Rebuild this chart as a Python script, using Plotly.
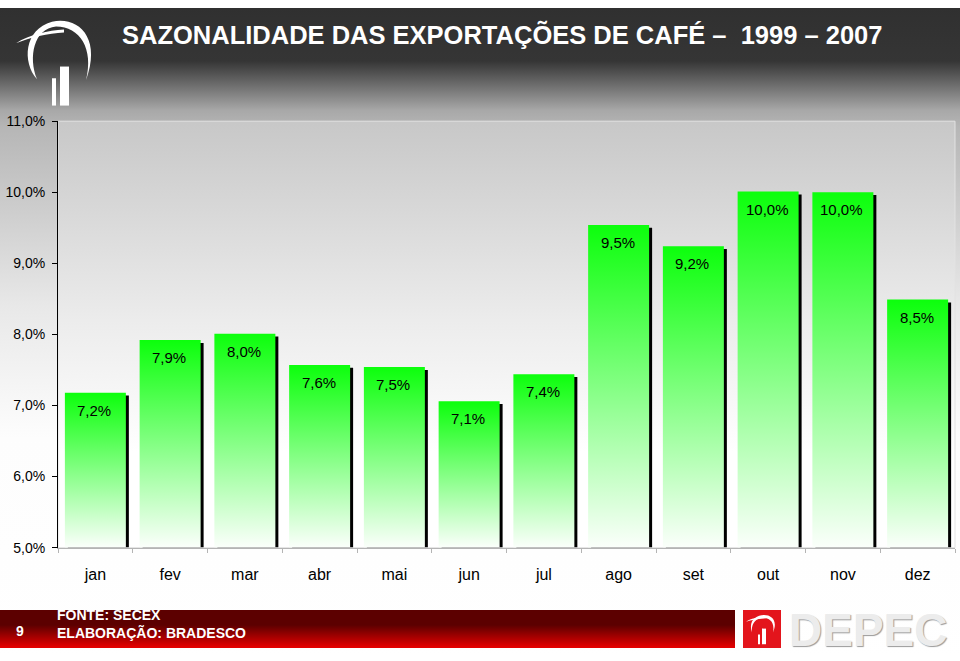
"""
Sazonalidade das exportações de café 1999-2007 — recriação em Plotly
"""

import plotly.graph_objects as go

# ── Dados ───────────────────────────────────────────────────────────────────
MESES = ["jan", "fev", "mar", "abr", "mai", "jun",
         "jul", "ago", "set", "out", "nov", "dez"]
PARTICIPACAO = [7.18, 7.92, 8.01, 7.57, 7.54, 7.06,
                7.44, 9.54, 9.24, 10.01, 10.0, 8.49]
Y_TICKS = [5, 6, 7, 8, 9, 10, 11]
Y_TICK_TEXT = ["5,0%", "6,0%", "7,0%", "8,0%", "9,0%", "10,0%", "11,0%"]

TITULO = "SAZONALIDADE DAS EXPORTAÇÕES DE CAFÉ –  1999 – 2007"
FONTE = "FONTE: SECEX"
ELABORACAO = "ELABORAÇÃO: BRADESCO"
PAGINA = "9"

# ── Tema ────────────────────────────────────────────────────────────────────
W, H = 960, 661
FONT = "Liberation Sans, Arial, sans-serif"
BAR_W = 0.816
SHADOW_DX = 0.04      # ~3 px em categorias
SHADOW_DY = 0.04      # ~3 px em pontos percentuais
BASE = 5

# área do gráfico em pixels da página
PX_L, PX_R, PX_T, PX_B = 58, 955, 116, 553


def rect(x0, y0, x1, y1):
    return [x0, x1, x1, x0, x0], [y0, y0, y1, y1, y0]


fig = go.Figure()

# ── Fundo da página (eixo x/y em pixels) ────────────────────────────────────
bx, by = rect(0, 0, W, H)
fig.add_trace(go.Scatter(
    x=bx, y=by, fill="toself", mode="lines", line=dict(width=0),
    fillgradient=dict(type="vertical", start=0, stop=H, colorscale=[
        [0.0, "#303030"], [0.08, "#353535"], [0.155, "#a8a8a8"],
        [0.18, "#b6b6b6"], [0.45, "#e8e8e8"], [0.65, "#fdfdfd"], [1.0, "#ffffff"],
    ]),
    hoverinfo="skip", showlegend=False, xaxis="x", yaxis="y",
))

# área de plotagem com gradiente próprio
px, py = rect(PX_L, PX_T, PX_R, PX_B)
fig.add_trace(go.Scatter(
    x=px, y=py, fill="toself", mode="lines",
    line=dict(width=1, color="#e2e2e2"),
    fillgradient=dict(type="vertical", start=PX_T, stop=PX_B, colorscale=[
        [0.0, "#c8c8c8"], [0.45, "#ececec"], [0.75, "#ffffff"], [1.0, "#ffffff"],
    ]),
    hoverinfo="skip", showlegend=False, xaxis="x", yaxis="y",
))

# faixa vermelha do rodapé
rx, ry = rect(0, 617, 735, 656)
fig.add_trace(go.Scatter(
    x=rx, y=ry, fill="toself", mode="lines", line=dict(width=0),
    fillgradient=dict(type="vertical", start=617, stop=656, colorscale=[
        [0.0, "#5c0000"], [0.55, "#e00000"], [1.0, "#ff0a0a"],
    ]),
    hoverinfo="skip", showlegend=False, xaxis="x", yaxis="y",
))

# ── Barras: sombra + gradiente verde ────────────────────────────────────────
idx = list(range(len(MESES)))

fig.add_trace(go.Bar(
    x=idx, y=[v - BASE - SHADOW_DY for v in PARTICIPACAO], base=BASE,
    width=BAR_W, offset=-BAR_W / 2 + SHADOW_DX,
    marker=dict(color="#000000", line=dict(width=0)),
    hoverinfo="skip", showlegend=False, xaxis="x2", yaxis="y2",
))

for i, v in zip(idx, PARTICIPACAO):
    gx, gy = rect(i - BAR_W / 2, BASE, i + BAR_W / 2, v)
    fig.add_trace(go.Scatter(
        x=gx, y=gy, fill="toself", mode="lines", line=dict(width=0),
        fillgradient=dict(type="vertical", colorscale=[
            [0.0, "#fbfffb"], [1.0, "#0cff0c"],
        ]),
        name=MESES[i],
        hovertemplate=f"{MESES[i]}: {v:.1f}%<extra></extra>",
        showlegend=False, xaxis="x2", yaxis="y2",
    ))
    fig.add_annotation(
        x=i, y=v, xref="x2", yref="y2",
        text=f"{v:.1f}%".replace(".", ","),
        showarrow=False, yanchor="top", yshift=-7, xshift=-1,
        font=dict(family=FONT, size=15, color="#000000"),
    )

# ── Eixos ───────────────────────────────────────────────────────────────────
fig.update_layout(
    width=W, height=H,
    margin=dict(l=0, r=0, t=0, b=0),
    paper_bgcolor="#ffffff",
    plot_bgcolor="rgba(0,0,0,0)",
    showlegend=False,
    xaxis=dict(domain=[0, 1], range=[0, W], visible=False, fixedrange=True),
    yaxis=dict(domain=[0, 1], range=[H, 0], visible=False, fixedrange=True),
    xaxis2=dict(
        domain=[PX_L / W, PX_R / W], anchor="y2",
        range=[-0.5, len(MESES) - 0.5],
        tickvals=idx, ticktext=MESES, ticks="",
        showline=True, linecolor="#b4b4b4", linewidth=1,
        showgrid=False, zeroline=False,
        minor=dict(ticks="outside", ticklen=4, tickcolor="#b4b4b4",
                   tick0=0.5, dtick=1, showgrid=False),
        ticklabelstandoff=12,
        tickfont=dict(family=FONT, size=16, color="#000000"),
    ),
    yaxis2=dict(
        domain=[1 - PX_B / H, 1 - PX_T / H], anchor="x2",
        range=[BASE, 11], tickvals=Y_TICKS, ticktext=Y_TICK_TEXT,
        ticks="outside", ticklen=5, tickcolor="#000000",
        showline=True, linecolor="#000000", linewidth=1,
        showgrid=False, zeroline=False, ticklabelstandoff=4,
        tickfont=dict(family=FONT, size=14, color="#000000"),
    ),
)

# ── Cabeçalho ───────────────────────────────────────────────────────────────
fig.add_annotation(
    x=120, y=27, xref="x", yref="y", xanchor="left", yanchor="middle",
    text=f"<b>{TITULO}</b>", showarrow=False,
    font=dict(family=FONT, size=25.5, color="#ffffff"),
)

# logotipo (arco + barras)
LOGO = [
    "M 37,73 C 22,55 24,22 52,14 C 78,8 102,30 86,74 "
    "C 94,42 80,19 56,19 C 34,21 28,50 37,73 Z",
    "M 16,36 C 30,27 48,23 64,22 L 64,25 C 48,26 30,30 16,36 Z",
    "M 60,60 L 69,60 L 69,100 L 60,100 Z",
    "M 52,72 L 56,72 L 56,100 L 52,100 Z",
]
for p in LOGO:
    fig.add_shape(type="path", path=p, xref="x", yref="y",
                  fillcolor="#ffffff", line=dict(width=0), layer="above")

# ── Rodapé ──────────────────────────────────────────────────────────────────
fig.add_annotation(
    x=55, y=622, xref="x", yref="y", xanchor="left", yanchor="middle",
    text=f"<b>{FONTE}</b>", showarrow=False,
    font=dict(family=FONT, size=14, color="#ffffff"),
)
fig.add_annotation(
    x=55, y=640, xref="x", yref="y", xanchor="left", yanchor="middle",
    text=f"<b>{ELABORACAO}</b>", showarrow=False,
    font=dict(family=FONT, size=14, color="#ffffff"),
)
fig.add_annotation(
    x=20, y=638, xref="x", yref="y", xanchor="center", yanchor="middle",
    text=f"<b>{PAGINA}</b>", showarrow=False,
    font=dict(family=FONT, size=14, color="#ffffff"),
)

# selo DEPEC
fig.add_shape(type="rect", x0=743, y0=617, x1=781, y1=656, xref="x", yref="y",
              fillcolor="#e3151c", line=dict(width=0), layer="above")
for p in [
    "M 752,640 C 748,628 756,622 764,622 C 772,622 778,628 773,640 "
    "C 775,630 770,625 763,625 C 756,625 751,631 752,640 Z",
    "M 746,629 C 752,625 758,624 766,624 L 766,625.5 C 758,626 752,627 746,629 Z",
    "M 762,636 L 766,636 L 766,652 L 762,652 Z",
    "M 758,642 L 760,642 L 760,652 L 758,652 Z",
]:
    fig.add_shape(type="path", path=p, xref="x", yref="y",
                  fillcolor="#ffffff", line=dict(width=0), layer="above")

fig.add_annotation(
    x=868, y=637, xref="x", yref="y", xanchor="center", yanchor="middle",
    text="<b>DEPEC</b>", showarrow=False,
    font=dict(family=FONT, size=46, color="#ececec",
              shadow="1px 1px 1px #9a9a9a"),
)

# página sem margens: a figura começa no canto da janela
POST = """
var s = document.documentElement.style, b = document.body.style;
s.margin = '0'; s.padding = '0'; s.height = '661px'; s.overflow = 'hidden';
b.margin = '0'; b.padding = '0'; b.height = '661px'; b.overflow = 'hidden';
"""

fig.write_html("out.html", config=dict(displayModeBar=False), post_script=POST)
